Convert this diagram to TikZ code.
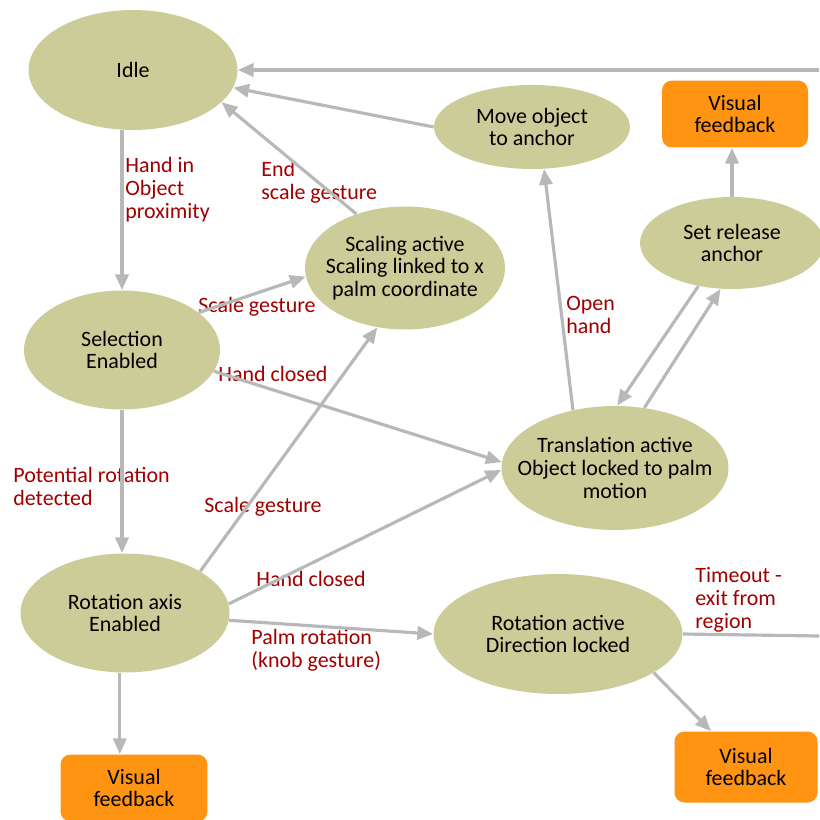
\documentclass[tikz,border=0pt]{standalone}
\usepackage{fontspec}
\setmainfont{Carlito}
\usepackage{tikz}
\usetikzlibrary{shapes,arrows.meta,positioning,calc}
\usepackage{xcolor}
\definecolor{stateolive}{RGB}{204,204,153}
\definecolor{fborange}{RGB}{255,148,18}
\definecolor{linkgray}{RGB}{184,184,184}
\definecolor{lblred}{RGB}{160,0,0}

\begin{document}
\begin{tikzpicture}[x=0.02cm,y=-0.02cm,
    state/.style={ellipse,fill=stateolive,inner xsep=-0.4cm,inner ysep=0pt,align=center,font=\fontsize{12.5}{13}\selectfont},
    fbbox/.style={rectangle,rounded corners=0.2cm,fill=fborange,inner sep=0pt,align=center,font=\fontsize{12.5}{13}\selectfont},
    link/.style={draw=linkgray,line width=1.8pt,-{Triangle[length=9pt,width=7.5pt]}},
    lbl/.style={anchor=north west,inner sep=0pt,align=left,text=lblred,font=\fontsize{12.5}{13}\selectfont}]
                \useasboundingbox (0,0) rectangle (819,820);
                % states
                \node[state,minimum width=4.18cm,minimum height=2.4cm] (idle) at (133,70) {Idle};
                \node[state,minimum width=3.92cm,minimum height=2.38cm] (select) at (122,350) {Selection\\Enabled};
                \node[state,minimum width=4.18cm,minimum height=2.38cm] (rotaxis) at (125,613) {Rotation axis\\Enabled};
                \node[state,minimum width=4.0cm,minimum height=2.46cm] (scaling) at (405,268) {Scaling active\\Scaling linked to x\\palm coordinate};
                \node[state,minimum width=3.92cm,minimum height=1.68cm] (moveanchor) at (532,127) {Move object\\to anchor};
                \node[state,minimum width=3.68cm,minimum height=1.84cm] (release) at (732,243) {Set release\\anchor};
                \node[state,minimum width=4.54cm,minimum height=2.48cm] (translate) at (615,468) {Translation active\\Object locked to palm\\motion};
                \node[state,minimum width=4.98cm,minimum height=2.4cm] (rotactive) at (558,634) {Rotation active\\Direction locked};
                % feedback boxes
                \node[fbbox,minimum width=2.92cm,minimum height=1.34cm] (vfbtop) at (735,114) {Visual\\feedback};
                \node[fbbox,minimum width=2.94cm,minimum height=1.34cm] (vfbleft) at (134,788) {Visual\\feedback};
                \node[fbbox,minimum width=2.86cm,minimum height=1.42cm] (vfbright) at (746,767) {Visual\\feedback};
                \coordinate (loopin) at (819,70);
                \coordinate (loopout) at (819,636);
                % labels
                \node[lbl] (lprox) at (125,157) {Hand in\\Object\\proximity};
                \node[lbl] (lendscale) at (261,161) {End\\scale gesture};
                \node[lbl] (lscaleone) at (198,297) {Scale gesture};
                \node[lbl] (lclosedone) at (218,366) {Hand closed};
                \node[lbl] (lpotential) at (13,467) {Potential rotation\\detected};
                \node[lbl] (lscaletwo) at (204,497) {Scale gesture};
                \node[lbl] (lclosedtwo) at (256,571) {Hand closed};
                \node[lbl] (lpalm) at (251,629) {Palm rotation\\(knob gesture)};
                \node[lbl] (lopen) at (566,296) {Open\\hand};
                \node[lbl] (ltimeout) at (695,567) {Timeout -\\exit from\\region};
                % transitions
                \draw[link] (loopin) -- (idle);
                \draw[link] (moveanchor.west) -- (idle.-10);
                \draw[link] (scaling.132) -- (idle.-20);
                \draw[link] (idle.south -| select.north) -- (select.north);
                \draw[link] (select.26) -- (scaling.185);
                \draw[link] (select.-13) -- (translate.177);
                \draw[link] (select.south) -- (select.south |- rotaxis.north);
                \draw[link] (rotaxis.29) -- (scaling.245);
                \draw[link] (rotaxis.5) -- (translate.181);
                \draw[link] (rotaxis.-4) -- (rotactive.west);
                \draw[link] (rotaxis.265) -- (rotaxis.265 |- vfbleft.north);
                \draw[link] (translate.126) -- (moveanchor.286);
                \draw[link] (translate.64) -- (release.256);
                \draw[link] (release.232) -- (translate.88);
                \draw[link] (release.north) -- (release.north |- vfbtop.south);
                \draw[link] (rotactive.-22) -- (vfbright);
                \draw[draw=linkgray,line width=1.8pt] (rotactive.east) -- (loopout);
            \end{tikzpicture}
\end{document}
